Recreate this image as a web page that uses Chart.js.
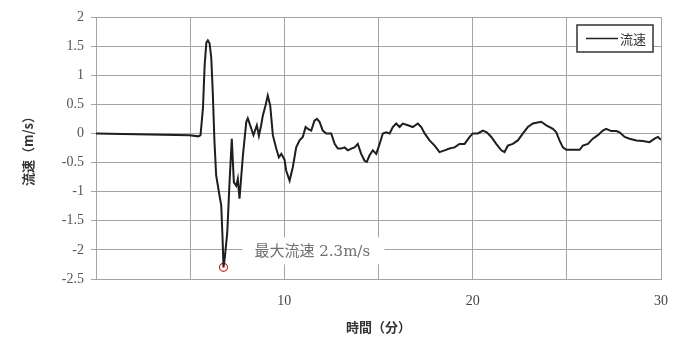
<!DOCTYPE html>
<html>
<head>
<meta charset="utf-8">
<script src="https://cdn.jsdelivr.net/npm/chart.js@4/dist/chart.umd.min.js"></script>
<style>
  html, body { margin: 0; padding: 0; background: #fff; }
  #wrap { width: 674px; height: 345px; position: relative; }
</style>
</head>
<body>
<div id="wrap"><canvas id="flowChart"></canvas></div>
<script>
// time in minutes, speed in m/s
const times = [
  0, 2.84, 4.97, 5.44, 5.55, 5.68, 5.77, 5.86, 5.94, 6.03, 6.12, 6.2, 6.29, 6.38, 6.56, 6.65, 6.72, 6.77,
  6.85, 6.97, 7.09, 7.21, 7.32, 7.45, 7.53, 7.62, 7.8, 7.98, 8.06, 8.24, 8.36, 8.54, 8.65, 8.77, 8.86,
  9.0, 9.12, 9.25, 9.39, 9.57, 9.71, 9.84, 10.01, 10.1, 10.28, 10.45, 10.63, 10.81, 10.98, 11.13, 11.25,
  11.43, 11.6, 11.73, 11.87, 12.04, 12.23, 12.49, 12.67, 12.84, 13.02, 13.2, 13.37, 13.55, 13.73, 13.9,
  14.08, 14.26, 14.38, 14.52, 14.7, 14.88, 15.06, 15.23, 15.41, 15.59, 15.76, 15.94, 16.12, 16.29, 16.56,
  16.82, 17.09, 17.27, 17.45, 17.71, 17.98, 18.24, 18.51, 18.77, 19.04, 19.3, 19.57, 19.84, 20.01, 20.28,
  20.54, 20.75, 20.99, 21.25, 21.52, 21.69, 21.87, 22.13, 22.4, 22.67, 22.93, 23.2, 23.64, 23.91, 24.26,
  24.44, 24.61, 24.79, 24.97, 25.32, 25.68, 25.85, 26.12, 26.38, 26.65, 26.91, 27.09, 27.36, 27.63, 27.8,
  28.07, 28.33, 28.69, 29.04, 29.39, 29.66, 29.84, 30
];
const speeds = [
  0, -0.02, -0.03, -0.05, -0.03, 0.44, 1.18, 1.56, 1.6, 1.55, 1.3, 0.71, -0.14, -0.72, -1.07, -1.24, -1.8, -2.3,
  -2.1, -1.7, -0.84, -0.09, -0.84, -0.9, -0.78, -1.12, -0.38, 0.2, 0.26, 0.09, -0.03, 0.14, -0.04, 0.14, 0.31,
  0.48, 0.65, 0.48, -0.03, -0.26, -0.41, -0.35, -0.45, -0.64, -0.81, -0.58, -0.24, -0.12, -0.06, 0.11, 0.08,
  0.05, 0.22, 0.25, 0.2, 0.05, 0, 0, -0.18, -0.26, -0.26, -0.24, -0.29, -0.26, -0.24, -0.18,
  -0.35, -0.47, -0.49, -0.38, -0.29, -0.35, -0.18, 0, 0.02, 0, 0.11, 0.17, 0.11, 0.17, 0.14,
  0.11, 0.17, 0.11, 0, -0.12, -0.21, -0.32, -0.29, -0.26, -0.24, -0.18, -0.18, -0.06, 0, 0,
  0.05, 0.02, -0.06, -0.18, -0.29, -0.32, -0.21, -0.18, -0.12, 0, 0.11, 0.17, 0.2, 0.14, 0.08,
  0.02, -0.12, -0.24, -0.28, -0.28, -0.28, -0.21, -0.18, -0.09, -0.03, 0.05, 0.08, 0.04, 0.04, 0.02,
  -0.06, -0.09, -0.12, -0.13, -0.15, -0.09, -0.06, -0.11
];
const peakTime = [6.77];
const peakSpeed = [-2.3];
const peakLabel = '最大流速 2.3m/s';
const seriesName = '流速';
const xTickLabels = [10, 20, 30];

const gridColor = '#a4a4a4';
const tickFont = { family: '"Liberation Serif", "DejaVu Serif", serif', size: 14 };
const titleFont = { family: '"Noto Sans CJK JP", sans-serif', size: 13, weight: 'bold' };

// annotation for the max speed + boxed legend
const extras = {
  id: 'extras',
  afterDatasetsDraw(chart) {
    const { ctx, chartArea, scales } = chart;
    const px = scales.x.getPixelForValue(peakTime[0]);
    const py = scales.y.getPixelForValue(peakSpeed[0]);

    ctx.save();
    // white box behind the label
    ctx.fillStyle = '#fff';
    ctx.fillRect(px + 19, py - 30, 142, 27);
    ctx.font = '15px "DejaVu Serif", "Noto Sans CJK JP", serif';
    ctx.fillStyle = '#707070';
    ctx.textBaseline = 'middle';
    ctx.fillText(peakLabel, px + 31, py - 15);

    // legend
    const lw = 76, lh = 27;
    const lx = chartArea.right - 84, ly = chartArea.top + 8;
    ctx.fillStyle = '#fff';
    ctx.fillRect(lx, ly, lw, lh);
    ctx.strokeStyle = '#333';
    ctx.lineWidth = 1.5;
    ctx.strokeRect(lx, ly, lw, lh);
    ctx.beginPath();
    ctx.moveTo(lx + 9, ly + lh / 2);
    ctx.lineTo(lx + 41, ly + lh / 2);
    ctx.strokeStyle = '#222';
    ctx.lineWidth = 1.5;
    ctx.stroke();
    ctx.font = '13px "Noto Sans CJK JP", sans-serif';
    ctx.fillStyle = '#333';
    ctx.fillText(seriesName, lx + 43, ly + lh / 2 + 1);
    ctx.restore();
  }
};

new Chart(document.getElementById('flowChart'), {
  type: 'scatter',
  data: {
    datasets: [
      {
        label: seriesName,
        data: times.map((t, i) => ({ x: t, y: speeds[i] })),
        showLine: true,
        borderColor: '#1e1e1e',
        borderWidth: 2,
        pointRadius: 0,
        tension: 0
      },
      {
        label: peakLabel,
        data: peakTime.map((t, i) => ({ x: t, y: peakSpeed[i] })),
        showLine: false,
        pointRadius: 4,
        pointBorderWidth: 1.2,
        pointBorderColor: '#e02020',
        pointBackgroundColor: 'rgba(0,0,0,0)'
      }
    ]
  },
  options: {
    responsive: true,
    maintainAspectRatio: false,
    animation: false,
    layout: { padding: { top: 17, right: 13, left: 0, bottom: 0 } },
    plugins: {
      legend: { display: false },
      tooltip: { enabled: false }
    },
    scales: {
      x: {
        type: 'linear',
        min: 0,
        max: 30,
        afterFit: s => { s.height = 66; s.paddingRight = 0; s.paddingLeft = 0; },
        grid: { color: gridColor, lineWidth: 1, drawTicks: false },
        border: { color: gridColor },
        ticks: {
          stepSize: 5,
          padding: 14,
          color: '#444',
          font: tickFont,
          maxRotation: 0,
          callback: v => xTickLabels.includes(v) ? v : ''
        },
        title: { display: true, text: '時間（分）', color: '#333', font: titleFont, padding: { top: 6, bottom: 10 } }
      },
      y: {
        min: -2.5,
        max: 2,
        afterFit: s => { s.width = 96; },
        grid: { color: gridColor, lineWidth: 1, tickLength: 5 },
        border: { color: gridColor },
        ticks: { stepSize: 0.5, padding: 7, color: '#555', font: tickFont, callback: v => String(v) },
        title: { display: true, text: '流速（m/s）', color: '#333', font: titleFont, padding: { top: 20, bottom: 4 } }
      }
    }
  },
  plugins: [extras]
});
</script>
</body>
</html>
